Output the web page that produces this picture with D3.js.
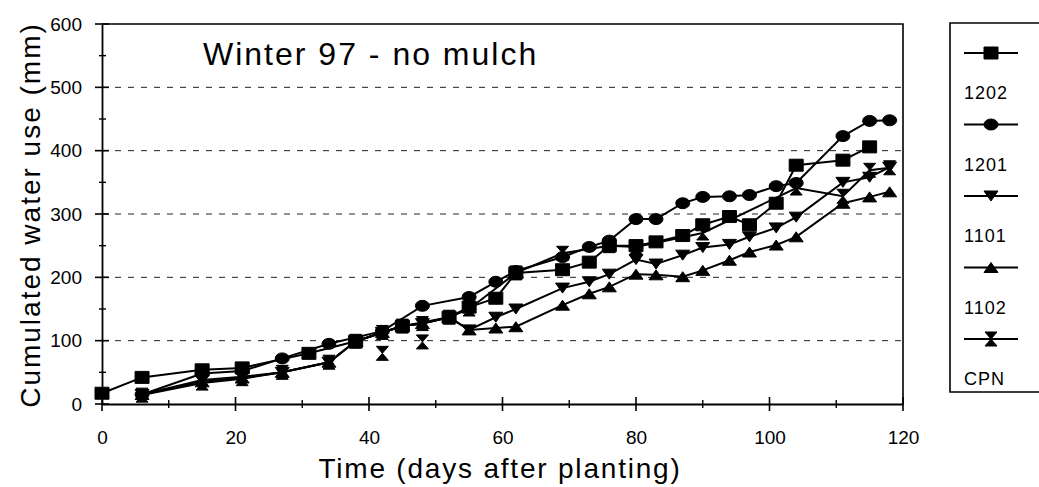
<!DOCTYPE html>
<html><head><meta charset="utf-8">
<script src="https://cdn.jsdelivr.net/npm/d3@7"></script>
<style>body{margin:0;background:#fff}svg{display:block}text{font-family:"Liberation Sans",Arial,sans-serif;fill:#000}</style>
</head><body><svg id="c" width="1039" height="487"></svg>
<script>
const seriesNames = ["1202","1201","1101","1102","CPN"];
const days1202 = [0,6,15,21,31,38,45,52,55,59,62,69,73,76,80,83,87,90,94,97,101,104,111,115];
const vals1202 = [17,42,54,57,80,99,123,137,153,167,207,212,224,250,250,256,266,283,296,283,317,377,385,406];
const days1201 = [6,15,21,27,34,42,48,55,59,62,69,73,76,80,83,87,90,94,97,101,104,111,115,118];
const vals1201 = [15,48,52,72,95,115,155,169,193,210,232,248,258,292,292,317,327,328,330,344,349,423,447,448];
const days1101 = [6,15,21,27,34,38,42,45,48,52,55,59,62,69,73,76,80,83,87,90,94,97,101,104,111,115,118];
const vals1101 = [15,38,43,50,66,99,113,123,127,137,117,137,150,183,193,205,228,221,235,247,252,264,278,295,350,358,374];
const days1102 = [6,15,21,27,34,38,42,45,48,52,55,59,62,69,73,76,80,83,87,90,94,97,101,104,111,115,118];
const vals1102 = [15,35,41,50,66,99,113,123,127,137,117,120,122,156,174,185,205,204,201,211,227,240,251,264,317,327,335];
const daysCPN = [6,15,21,27,34,38,42,45,48,52,55,62,69,76,80,90,104,111,115,118];
const valsCPN = [14,33,40,50,66,99,113,123,127,137,150,207,238,250,248,270,341,328,369,373];
// unconnected CPN readings (marker only)
const extraDaysCPN = [42,48];
const extraValsCPN = [80,98];
const xTicks = [0,20,40,60,80,100,120];
const yTicks = [0,100,200,300,400,500,600];

const svg = d3.select("#c");
const x = d3.scaleLinear().domain([0,120]).range([102,903]);
const y = d3.scaleLinear().domain([0,600]).range([404,24]);

svg.append("g").selectAll("line").data(yTicks.filter(v=>v>0&&v<600)).join("line")
  .attr("x1",x(0)).attr("x2",x(120)).attr("y1",d=>y(d)).attr("y2",d=>y(d))
  .attr("stroke","#222").attr("stroke-width",1).attr("stroke-dasharray","6,7");
svg.append("path").attr("d",`M${x(0)},${y(600)}H${x(120)}V${y(0)}`).attr("fill","none").attr("stroke","#000").attr("stroke-width",1.6);

const xAxis = d3.axisBottom(x).tickValues(xTicks).tickSize(0).tickPadding(27).tickFormat(d3.format("d"));
const gx = svg.append("g").attr("transform",`translate(0,${y(0)})`).call(xAxis);
gx.select(".domain").attr("stroke-width",1.8);
gx.selectAll("text").attr("font-size",19).attr("font-family","Liberation Sans, Arial");
const gy = svg.append("g").attr("transform",`translate(${x(0)},0)`).call(d3.axisLeft(y).tickValues(yTicks).tickSize(0).tickPadding(20));
gy.select(".domain").attr("stroke-width",1.8);
gy.selectAll("text").attr("font-size",19).attr("font-family","Liberation Sans, Arial");
const xMinor = d3.range(10,120,20);
svg.append("g").selectAll("line").data(xTicks).join("line").attr("x1",d=>x(d)).attr("x2",d=>x(d)).attr("y1",y(0)-7).attr("y2",y(0)+7).attr("stroke","#000").attr("stroke-width",1.6);
svg.append("g").selectAll("line").data(xMinor).join("line").attr("x1",d=>x(d)).attr("x2",d=>x(d)).attr("y1",y(0)-4).attr("y2",y(0)+4).attr("stroke","#000").attr("stroke-width",1.4);
const yMinor = d3.range(50,600,100);
svg.append("g").selectAll("line").data(yTicks).join("line").attr("y1",d=>y(d)).attr("y2",d=>y(d)).attr("x1",x(0)-7).attr("x2",x(0)+7).attr("stroke","#000").attr("stroke-width",1.6);
svg.append("g").selectAll("line").data(yMinor).join("line").attr("y1",d=>y(d)).attr("y2",d=>y(d)).attr("x1",x(0)-3).attr("x2",x(0)+4).attr("stroke","#000").attr("stroke-width",1.4);

function marker(sel, type){
  const p = {
    square:"M-7,-6H7V6H-7Z",
    circle:"M-7,0A7,5.5 0 1,0 7,0A7,5.5 0 1,0 -7,0Z",
    down:"M-7,-5H7L0,5Z",
    up:"M-7,5H7L0,-5Z",
    hour:"M-6,-7H6L0,0L6,7H-6L0,0Z"
  }[type];
  sel.append("path").attr("d",p).attr("fill","#000").attr("stroke","#000").attr("stroke-width",1);
}
const series = [
  {name:"1202",days:days1202,vals:vals1202,m:"square"},
  {name:"1201",days:days1201,vals:vals1201,m:"circle"},
  {name:"1101",days:days1101,vals:vals1101,m:"down"},
  {name:"1102",days:days1102,vals:vals1102,m:"up"},
  {name:"CPN",days:daysCPN,vals:valsCPN,m:"hour"}
];
const line = d3.line().x(d=>x(d[0])).y(d=>y(d[1]));
series.forEach(s=>{
  const pts = s.days.map((d,i)=>[d,s.vals[i]]);
  svg.append("path").attr("d",line(pts)).attr("fill","none").attr("stroke","#000").attr("stroke-width",2);
  svg.append("g").selectAll("g").data(pts).join("g").attr("transform",d=>`translate(${x(d[0])},${y(d[1])})`).each(function(){marker(d3.select(this),s.m);});
});
svg.append("g").selectAll("g").data(extraDaysCPN.map((d,i)=>[d,extraValsCPN[i]])).join("g")
  .attr("transform",d=>`translate(${x(d[0])},${y(d[1])})`).each(function(){marker(d3.select(this),"hour");});

svg.append("text").attr("x",203).attr("y",65).attr("font-size",32).attr("letter-spacing",2).text("Winter 97 - no mulch");
svg.append("text").attr("x",500).attr("y",478).attr("text-anchor","middle").attr("font-size",28).attr("letter-spacing",1.8).text("Time (days after planting)");
svg.append("text").attr("transform","translate(40,215) rotate(-90)").attr("text-anchor","middle").attr("font-size",28).attr("letter-spacing",2).text("Cumulated water use (mm)");

svg.append("path").attr("d","M1045,23H950V392H1045").attr("fill","none").attr("stroke","#000").attr("stroke-width",1.6);
const lg = svg.append("g").selectAll("g").data(series).join("g").attr("transform",(d,i)=>`translate(0,${53+i*71.5})`);
lg.append("line").attr("x1",964).attr("x2",1018).attr("stroke","#000").attr("stroke-width",1.8);
lg.each(function(d){const g=d3.select(this).append("g").attr("transform","translate(991,0)"); marker(g,d.m);});
lg.append("text").attr("x",964).attr("y",46).attr("font-size",18).attr("letter-spacing",1).text(d=>d.name);
</script></body></html>
